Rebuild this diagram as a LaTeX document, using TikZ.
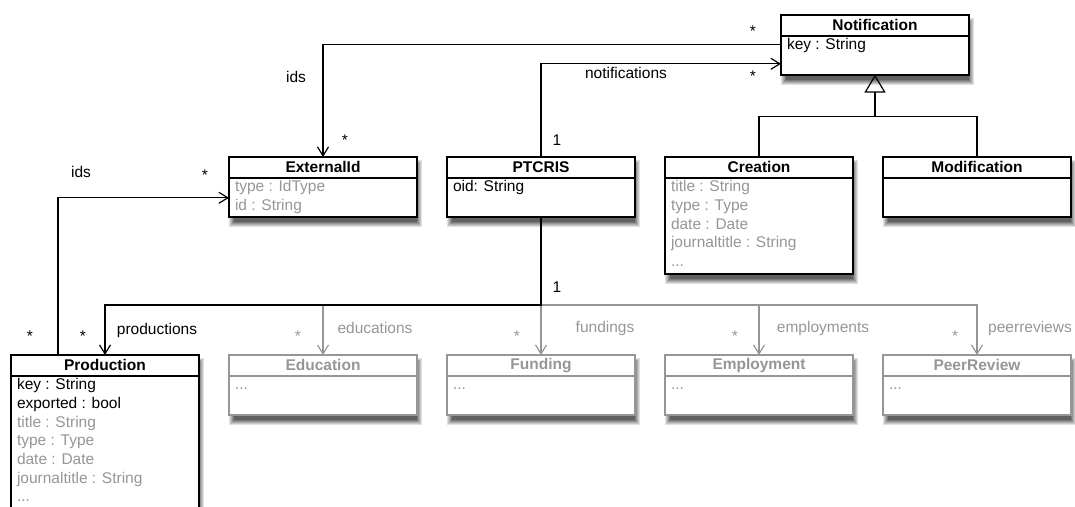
\documentclass[tikz,border=0pt]{standalone}
\usepackage{fontspec}
\setmainfont{Liberation Sans}
\usetikzlibrary{positioning,shapes.multipart,arrows.meta,backgrounds}
\definecolor{umlgray}{RGB}{150,150,150}
\newcommand{\clshead}[1]{\parbox[c][19pt][c]{176pt}{\centering\bfseries #1}}
\newcommand{\clsbody}[2]{\parbox[t][#1][t]{176pt}{\strut #2}}
\tikzset{
  cls/.style={rectangle split, rectangle split parts=2, draw, line width=1.8pt,
    fill=white, inner xsep=6pt, inner ysep=0pt, outer sep=0pt, anchor=north west},
  gcls/.style={cls, draw=umlgray, text=umlgray},
  assoc/.style={line width=1.2pt, -{Straight Barb[length=9pt,width=11pt]}},
  gassoc/.style={assoc, draw=umlgray},
  lbl/.style={inner sep=0pt},
  glbl/.style={lbl, text=umlgray}
}

\begin{document}
\begin{tikzpicture}[x=1pt, y=-1pt, font=\fontsize{15.5}{18.7}\selectfont]
          \useasboundingbox (0,0) rectangle (1075,506);

          \node[cls] (1) at (781,15) {\clshead{Notification}\nodepart{two}\clsbody{37pt}{key : String}};
          \node[cls] (2) at (229,157) {\clshead{ExternalId}\nodepart{two}\clsbody{37pt}{\color{umlgray}type : IdType\\id : String}};
          \node[cls, right=30pt of 2.north east, anchor=north west] (3) {\clshead{PTCRIS}\nodepart{two}\clsbody{37pt}{oid: String}};
          \node[cls, right=30pt of 3.north east, anchor=north west] (4) {\clshead{Creation}\nodepart{two}\clsbody{94pt}{\color{umlgray}title : String\\type : Type\\date : Date\\journaltitle : String\\...}};
          \node[cls, right=30pt of 4.north east, anchor=north west] (5) {\clshead{Modification}\nodepart{two}\clsbody{37pt}{}};
          \node[cls] (6) at (11,355) {\clshead{Production}\nodepart{two}\clsbody{150pt}{key : String\\exported : bool\\{\color{umlgray}title : String}\\{\color{umlgray}type : Type}\\{\color{umlgray}date : Date}\\{\color{umlgray}journaltitle : String}\\{\color{umlgray}...}}};
          \node[gcls, right=30pt of 6.north east, anchor=north west] (7) {\clshead{Education}\nodepart{two}\clsbody{37pt}{...}};
          \node[gcls, right=30pt of 7.north east, anchor=north west] (8) {\clshead{Funding}\nodepart{two}\clsbody{37pt}{...}};
          \node[gcls, right=30pt of 8.north east, anchor=north west] (9) {\clshead{Employment}\nodepart{two}\clsbody{37pt}{...}};
          \node[gcls, right=30pt of 9.north east, anchor=north west] (10) {\clshead{PeerReview}\nodepart{two}\clsbody{37pt}{...}};

          \begin{scope}[on background layer]
            \foreach \n in {1,...,10}
              \foreach \k/\c in {0/12,1/22,2/32,3/42,4/52,5/62}
                \fill[black!\c] ([shift={(\k pt,-3pt-\k pt)}]\n.north west) rectangle ([shift={(5pt-\k pt,-10pt+\k pt)}]\n.south east);
          \end{scope}

          \coordinate (g) at ([yshift=-42pt]1.south);
          \coordinate (j) at ([yshift=50pt]8.north);

          \draw[line width=1.2pt] (4.north) |- (g) -| (5.north);
          \draw[line width=1.2pt, -{Triangle[open, length=18pt, width=21pt]}] (g) -- (1.south);
          \draw[assoc] (1.west) -| (2.north);
          \draw[assoc] (3.north) |- ([yshift=-19pt]1.west);
          \draw[assoc] ([xshift=-47pt]6.north) |- ([yshift=-11pt]2.west);
          \draw[gassoc] (j) -| (7.north);
          \draw[gassoc] (j) -- (8.north);
          \draw[gassoc] (j) -| (9.north);
          \draw[gassoc] (j) -| (10.north);
          \draw[assoc] (3.south) -- (j) -| (6.north);

          \node[lbl] (m1) at (753,31) {*};
          \node[lbl] (m2) at (753,76) {*};
          \node[lbl] (r1) at (626,73) {notifications};
          \node[lbl] (r2) at (296,77) {ids};
          \node[lbl] (m3) at (345,140) {*};
          \node[lbl] (m4) at (557,140) {1};
          \node[lbl] (r3) at (81,172) {ids};
          \node[lbl] (m5) at (205,175) {*};
          \node[lbl] (m6) at (557,287) {1};
          \node[lbl] (m7) at (30,336) {*};
          \node[lbl] (m8) at (83,336) {*};
          \node[lbl] (r4) at (157,330) {productions};
          \node[glbl] (m9) at (298,336) {*};
          \node[glbl] (r5) at (375,328) {educations};
          \node[glbl] (m10) at (517,336) {*};
          \node[glbl] (r6) at (605,328) {fundings};
          \node[glbl] (m11) at (735,336) {*};
          \node[glbl] (r7) at (823,328) {employments};
          \node[glbl] (m12) at (955,336) {*};
          \node[glbl] (r8) at (1030,328) {peerreviews};
\end{tikzpicture}
\end{document}
